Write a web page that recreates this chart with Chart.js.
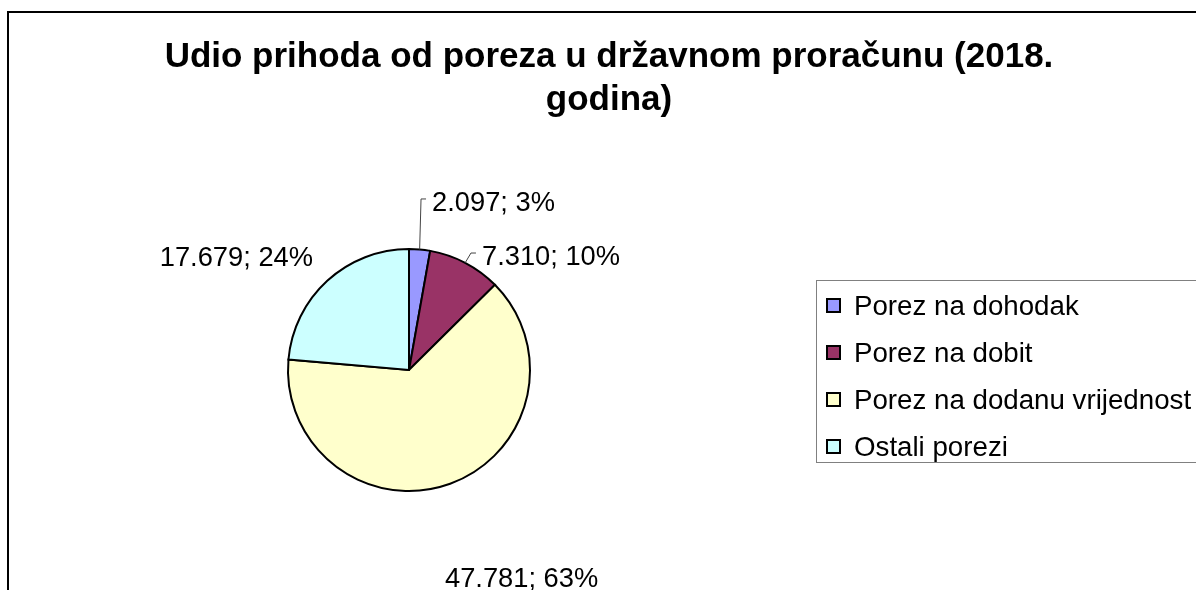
<!DOCTYPE html>
<html>
<head>
<meta charset="utf-8">
<script src="https://cdn.jsdelivr.net/npm/chart.js@4.4.1/dist/chart.umd.min.js"></script>
<style>
  html, body { margin: 0; padding: 0; background: #fff; overflow: hidden; }
  #stage { position: relative; width: 1196px; height: 590px; overflow: hidden;
           font-family: "Liberation Sans", Arial, sans-serif; color: #000; }
  #frame { position: absolute; left: 7px; top: 11px; width: 1300px; height: 700px;
           border: 2px solid #000; box-sizing: border-box; }
  #pie   { position: absolute; left: 0; top: 0; }
  #title { position: absolute; left: 0; top: 33px; width: 1218px; text-align: center;
           font-weight: bold; font-size: 35px; line-height: 43px; }
  #legend { position: absolute; left: 816px; top: 280px; width: 420px; height: 183px;
            border: 1px solid #808080; box-sizing: border-box; padding-top: 1px; }
  .item  { position: relative; height: 47px; line-height: 47px; font-size: 27.7px;
           padding-left: 37px; white-space: nowrap; }
  .sw    { position: absolute; left: 9px; top: 16px; width: 15px; height: 15px;
           border: 2px solid #000; box-sizing: border-box; }
  .dlab  { position: absolute; font-size: 27.3px; line-height: 30px; white-space: nowrap; }
</style>
</head>
<body>
<div id="stage">
  <div id="frame"></div>
  <canvas id="pie" width="1196" height="590"></canvas>
  <div id="title">Udio prihoda od poreza u državnom proračunu (2018.<br>godina)</div>
  <div id="legend"></div>
</div>
<script>
/* Porezni prihodi, mil. kn (2018.) */
var LABELS   = ['Porez na dohodak', 'Porez na dobit', 'Porez na dodanu vrijednost', 'Ostali porezi'];
var VALUES   = [2097, 7310, 47781, 17679];
var PERCENTS = [3, 10, 63, 24];
var COLORS   = ['#9999FF', '#993366', '#FFFFCC', '#CCFFFF'];

function fmtThousands(v) {
  var s = String(Math.round(v));
  return s.replace(/\B(?=(\d{3})+(?!\d))/g, '.');
}

/* legend, built from the data */
var legend = document.getElementById('legend');
LABELS.forEach(function (name, i) {
  var row = document.createElement('div');
  row.className = 'item';
  row.innerHTML = '<span class="sw" style="background:' + COLORS[i] + '"></span>' + name;
  legend.appendChild(row);
});

/* data labels as DOM text, placed from the arc geometry */
var stage = document.getElementById('stage');
var labelEls = VALUES.map(function (v, i) {
  var d = document.createElement('div');
  d.className = 'dlab';
  d.textContent = fmtThousands(v) + '; ' + PERCENTS[i] + '%';
  stage.appendChild(d);
  return d;
});

var sliceLabels = {
  id: 'sliceLabels',
  afterDraw: function (chart, args, opts) {
    var ctx = chart.ctx;
    var meta = chart.getDatasetMeta(0);
    meta.data.forEach(function (arc, i) {
      var mid = (arc.startAngle + arc.endAngle) / 2;
      var px = arc.x + Math.cos(mid) * arc.outerRadius;
      var py = arc.y + Math.sin(mid) * arc.outerRadius;
      var o = opts.offsets[i];
      var ax = px + o[0], ay = py + o[1];
      var el = labelEls[i];
      el.style.left = ax + 'px';
      el.style.top = ay + 'px';
      el.style.transform = o[2] === 'right' ? 'translate(-100%,-50%)' : 'translate(0,-50%)';
      if (opts.leaders[i]) {
        ctx.save();
        ctx.strokeStyle = '#444'; ctx.lineWidth = 1;
        ctx.beginPath();
        ctx.moveTo(px, py);
        ctx.lineTo(ax - 11, ay - 3);
        ctx.lineTo(ax - 6, ay - 3);
        ctx.stroke();
        ctx.restore();
      }
    });
  }
};

new Chart(document.getElementById('pie'), {
  type: 'pie',
  data: {
    labels: LABELS,
    datasets: [{
      data: VALUES,
      backgroundColor: COLORS,
      borderColor: '#000',
      borderWidth: 2,
      borderJoinStyle: 'miter',
      radius: 121
    }]
  },
  options: {
    responsive: false,
    animation: false,
    layout: { padding: { left: 279, right: 657, top: 240, bottom: 90 } },
    plugins: {
      legend: { display: false },
      title: { display: false },
      tooltip: { enabled: false },
      sliceLabels: {
        offsets: [[12.4, -47.5, 'left'], [16.8, -6.8, 'left'], [-5.2, 94.2, 'left'], [-14.2, -23.8, 'right']],
        leaders: [true, true, false, false]
      }
    }
  },
  plugins: [sliceLabels]
});
</script>
</body>
</html>
